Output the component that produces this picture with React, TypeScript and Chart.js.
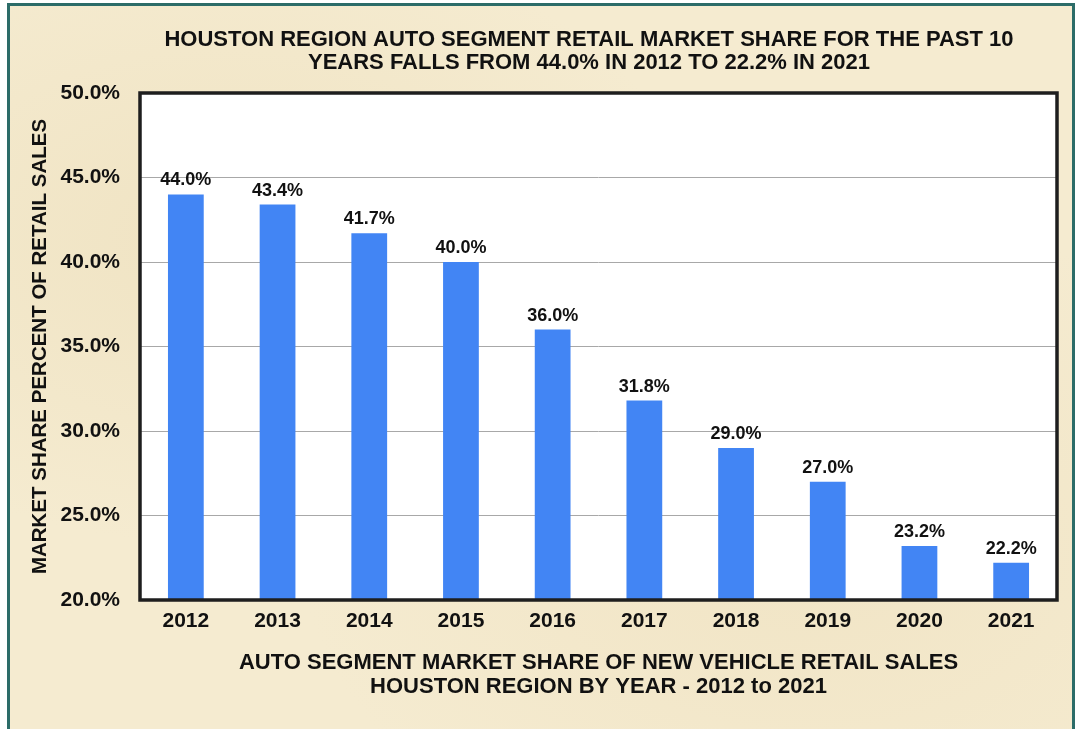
import React, { useEffect, useRef } from "react";
import { Chart, registerables } from "chart.js";

Chart.register(...registerables);

const titleLines = [
  "HOUSTON REGION AUTO SEGMENT RETAIL MARKET SHARE FOR THE PAST 10",
  "YEARS FALLS FROM 44.0% IN 2012 TO 22.2% IN 2021",
];
const xTitleLines = [
  "AUTO SEGMENT MARKET SHARE OF NEW VEHICLE RETAIL SALES",
  "HOUSTON REGION BY YEAR - 2012 to 2021",
];
const yTitle = "MARKET SHARE PERCENT OF RETAIL SALES";
const years = ["2012", "2013", "2014", "2015", "2016", "2017", "2018", "2019", "2020", "2021"];
const shares = [44.0, 43.4, 41.7, 40.0, 36.0, 31.8, 29.0, 27.0, 23.2, 22.2];
const yMin = 20;
const yMax = 50;
const yStep = 5;

const FONT = "'Liberation Sans', Arial, sans-serif";

const plotFramePlugin = {
  id: "plotFrame",
  beforeDraw(chart: any) {
    const { ctx, chartArea } = chart;
    ctx.save();
    ctx.fillStyle = "#ffffff";
    ctx.fillRect(chartArea.left, chartArea.top, chartArea.right - chartArea.left, chartArea.bottom - chartArea.top);
    ctx.restore();
  },
  afterDraw(chart: any) {
    const { ctx, chartArea } = chart;
    ctx.save();
    ctx.strokeStyle = "#1e1e1e";
    ctx.lineWidth = 3.5;
    ctx.strokeRect(chartArea.left, chartArea.top, chartArea.right - chartArea.left, chartArea.bottom - chartArea.top);
    // main title
    ctx.fillStyle = "#111111";
    ctx.font = `bold 22px ${FONT}`;
    ctx.textAlign = "center";
    ctx.textBaseline = "middle";
    ctx.fillText(titleLines[0], 589, 40);
    ctx.fillText(titleLines[1], 589, 63);
    ctx.restore();
  },
};

const dataLabelPlugin = {
  id: "dataLabels",
  afterDatasetsDraw(chart: any) {
    const { ctx } = chart;
    const meta = chart.getDatasetMeta(0);
    ctx.save();
    ctx.fillStyle = "#111111";
    ctx.font = `bold 18px ${FONT}`;
    ctx.textAlign = "center";
    ctx.textBaseline = "alphabetic";
    meta.data.forEach((bar: any, i: number) => {
      ctx.fillText(shares[i].toFixed(1) + "%", bar.x, bar.y - 9);
    });
    ctx.restore();
  },
};

export default function App() {
  const canvasRef = useRef<HTMLCanvasElement | null>(null);

  useEffect(() => {
    if (!canvasRef.current) return;
    const chart = new Chart(canvasRef.current, {
      type: "bar",
      data: {
        labels: years,
        datasets: [
          {
            data: shares,
            backgroundColor: "#4285F4",
            borderWidth: 0,
            barPercentage: 0.39,
            categoryPercentage: 1,
          },
        ],
      },
      options: {
        responsive: false,
        animation: false,
        layout: { padding: { top: 93, left: 0, right: 22, bottom: 0 } },
        plugins: {
          legend: { display: false },
          title: { display: false },
          tooltip: { enabled: false },
        },
        scales: {
          x: {
            grid: { display: false, drawTicks: false },
            border: { display: false },
            ticks: {
              color: "#111111",
              padding: 9,
              font: { family: FONT, size: 21, weight: "bold" },
            },
            title: {
              display: true,
              text: xTitleLines,
              color: "#111111",
              font: { family: FONT, size: 22, weight: "bold", lineHeight: 24 / 22 },
              padding: { top: 0, bottom: 30 },
            },
            afterFit(scale: any) {
              scale.height = 129;
            },
          },
          y: {
            min: yMin,
            max: yMax,
            grid: { color: "#a8a8a8", lineWidth: 1, drawTicks: false },
            border: { display: false },
            ticks: {
              stepSize: yStep,
              color: "#111111",
              padding: 20,
              font: { family: FONT, size: 21, weight: "bold" },
              callback: (v: any) => Number(v).toFixed(1) + "%",
            },
            title: {
              display: true,
              text: yTitle,
              color: "#111111",
              font: { family: FONT, size: 20.5, weight: "bold", lineHeight: 1.2 },
              padding: { top: 28, bottom: 0 },
            },
            afterFit(scale: any) {
              scale.width = 140;
            },
          },
        },
      },
      plugins: [plotFramePlugin, dataLabelPlugin],
    });
    return () => chart.destroy();
  }, []);

  return (
    <div
      style={{
        position: "fixed",
        left: 0,
        top: 0,
        width: 1079,
        height: 729,
        background: "#ffffff",
        overflow: "hidden",
      }}
    >
      <div
        style={{
          position: "absolute",
          left: 7,
          top: 3,
          width: 1068,
          height: 780,
          boxSizing: "border-box",
          border: "3px solid #2c6c68",
          background:
            "radial-gradient(ellipse at 20% 30%, rgba(236,222,186,0.6), rgba(0,0,0,0) 40%), radial-gradient(ellipse at 75% 70%, rgba(238,224,190,0.6), rgba(0,0,0,0) 45%), #f5ebd0",
        }}
      />
      <canvas
        ref={canvasRef}
        width={1079}
        height={729}
        style={{ position: "absolute", left: 0, top: 0, width: 1079, height: 729 }}
      />
    </div>
  );
}
